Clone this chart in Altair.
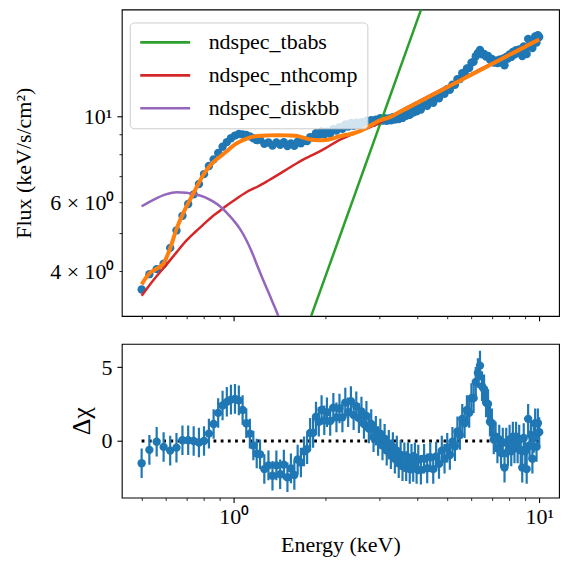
import altair as alt
import pandas as pd

FONT = "Liberation Serif"

# ---------------- data ----------------
ENERGY = [0.50, 0.53, 0.56, 0.59, 0.62, 0.65, 0.68, 0.71, 0.74, 0.77, 0.80, 0.83,
          0.86, 0.89, 0.92, 0.95, 0.98, 1.01, 1.04, 1.07, 1.10, 1.13, 1.16, 1.19,
          1.22, 1.26, 1.30, 1.34, 1.38, 1.42, 1.46, 1.50, 1.54, 1.58, 1.62, 1.66,
          1.70, 1.74, 1.78, 1.82, 1.86, 1.90, 1.94, 1.98, 2.02,
          2.07, 2.12, 2.17, 2.22, 2.27, 2.32, 2.37, 2.42, 2.47, 2.52, 2.57, 2.62,
          2.67, 2.72, 2.77, 2.82, 2.87, 2.92, 2.97, 3.02, 3.07, 3.12, 3.17, 3.22,
          3.27, 3.32, 3.37, 3.42, 3.47, 3.52, 3.57, 3.62, 3.67, 3.72, 3.77, 3.82,
          3.87, 3.92, 3.97, 4.02,
          4.1, 4.2, 4.3, 4.4, 4.5, 4.6, 4.7, 4.8, 4.9, 5.0, 5.1, 5.2, 5.3, 5.4,
          5.5, 5.6, 5.7, 5.8, 5.9, 6.0, 6.1, 6.2, 6.3, 6.4, 6.5, 6.6, 6.7, 6.8,
          6.9, 7.0, 7.1, 7.2, 7.3, 7.4, 7.5, 7.6, 7.7, 7.8, 7.9, 8.0, 8.1, 8.2,
          8.3, 8.4, 8.5, 8.6, 8.7, 8.8, 8.9, 9.0, 9.1, 9.2, 9.3, 9.4, 9.5, 9.6,
          9.7, 9.8, 9.9, 10.0]

FLUX = [3.59, 3.93, 4.05, 4.18, 4.59, 5.09, 5.55, 5.95, 6.30, 6.70, 7.10, 7.45,
        7.75, 8.05, 8.35, 8.58, 8.78, 8.92, 9.00, 8.98, 8.95, 8.88, 8.78, 8.68,
        8.71, 8.50, 8.56, 8.41, 8.57, 8.44, 8.58, 8.38, 8.51, 8.40, 8.60, 8.52,
        8.65, 8.64, 8.84, 8.82, 9.05, 8.96, 9.14, 8.99, 9.13,
        9.03, 9.27, 9.19, 9.37, 9.28, 9.53, 9.41, 9.61, 9.45, 9.63, 9.50, 9.66,
        9.54, 9.74, 9.62, 9.77, 9.62, 9.80, 9.71, 9.89, 9.74, 9.89, 9.73, 9.87,
        9.76, 9.94, 9.80, 10.00, 9.84, 10.04, 9.90, 10.11, 10.02, 10.23, 10.08, 10.32,
        10.22, 10.44, 10.29, 10.51,
        10.40, 10.72, 10.64, 10.96, 10.83, 11.17, 11.12, 11.48, 11.42, 11.74, 11.69,
        12.05, 12.04, 12.45, 12.46, 12.90, 12.90, 13.27, 13.30, 13.72, 13.80, 14.26,
        14.54, 14.79, 14.43, 14.45, 14.24, 14.29, 13.98, 14.03, 13.73, 13.88, 13.69,
        13.97, 13.73, 14.05, 13.52, 14.20, 14.06, 14.42, 14.20, 14.63, 14.41, 14.78,
        14.56, 14.85, 14.66, 14.28, 15.10, 14.83, 14.44, 15.80, 15.19, 15.51, 14.97,
        15.58, 16.03, 15.46, 16.15, 15.98]

RESID = [-1.5, -0.6, -0.05, -0.4, -0.65, -0.45, 0.05, 0.05, 0.0, -0.1, 0.0, 0.5,
         1.15, 1.9, 2.4, 2.65, 2.8, 2.85, 2.75, 2.1, 1.2, 0.5, -0.3, -0.85,
         -0.9, -1.9, -1.65, -2.35, -1.65, -2.25, -1.6, -2.45, -1.85, -2.3, -1.25, -1.45,
         -0.7, -0.55, 0.55, 0.55, 1.65, 1.3, 2.1, 1.4, 1.95,
         1.35, 2.25, 1.6, 2.2, 1.6, 2.6, 1.95, 2.7, 1.75, 2.35, 1.55, 2.0,
         1.15, 1.7, 0.85, 1.15, 0.25, 0.7, 0.0, 0.5, -0.3, 0.15, -0.65, -0.25,
         -0.9, -0.4, -1.2, -0.65, -1.5, -0.95, -1.7, -1.1, -1.7, -1.1, -1.9, -1.2,
         -1.75, -1.1, -1.9, -1.25,
         -1.95, -1.2, -1.85, -1.1, -1.9, -1.05, -1.55, -0.65, -1.2, -0.45, -0.95,
         -0.05, -0.35, 0.65, 0.4, 1.5, 1.2, 2.1, 1.9, 2.9, 2.9, 4.0, 4.6, 5.1, 3.7,
         3.5, 2.6, 2.5, 1.3, 1.2, 0.1, 0.3, -0.5, 0.1, -0.8, -0.1, -1.8, -0.1, -0.7,
         0.1, -0.7, 0.3, -0.5, 0.3, -0.5, 0.1, -0.6, -1.8, 0.2, -0.7, -1.9, 1.5,
         -0.3, 0.4, -1.2, 0.2, 1.2, -0.4, 1.2, 0.6]
RESID_ERR = 1.0

# total model (orange)
MODEL_E = [0.50, 0.53, 0.56, 0.59, 0.62, 0.65, 0.68, 0.71, 0.74, 0.77, 0.80, 0.83,
           0.86, 0.90, 0.95, 1.00, 1.05, 1.10, 1.15, 1.20, 1.30, 1.40, 1.50, 1.60,
           1.70, 1.80, 1.90, 2.00, 2.10, 2.20, 2.30, 2.40, 2.50, 2.60, 2.80, 3.00,
           3.25, 3.5, 4.0, 4.5, 5.0, 5.5, 6.0, 6.5, 7.0, 7.5, 8.0, 8.5, 9.0, 9.5, 10.0]
MODEL_F = [3.70, 3.95, 4.06, 4.19, 4.58, 5.13, 5.58, 5.98, 6.36, 6.75, 7.12, 7.41,
           7.63, 7.86, 8.13, 8.42, 8.61, 8.75, 8.85, 8.90, 8.93, 8.94, 8.93, 8.91,
           8.80, 8.70, 8.68, 8.69, 8.76, 8.87, 8.94, 8.99, 9.07, 9.17, 9.46, 9.75,
           9.95, 10.26, 10.83, 11.37, 11.87, 12.34, 12.79, 13.21, 13.62, 14.01, 14.38,
           14.74, 15.09, 15.43, 15.74]

COMP_NAMES = ["ndspec_tbabs", "ndspec_nthcomp", "ndspec_diskbb"]
COMP_COLORS = ["#2ca02c", "#d62728", "#9467bd"]

TBABS_E = [1.7, 2.0, 2.5, 3.0, 3.5, 4.0, 4.5]
TBABS_F = [2.73, 3.89, 6.34, 9.45, 13.25, 17.75, 22.97]

NTH_E = [0.50, 0.55, 0.60, 0.65, 0.70, 0.75, 0.80, 0.85, 0.90, 0.95, 1.0, 1.1, 1.2,
         1.3, 1.4, 1.5, 1.6, 1.7, 1.8, 1.9, 2.0, 2.2, 2.4, 2.6, 2.8, 3.0, 3.25, 3.5,
         4.0, 5.0, 6.0, 7.0, 8.0, 9.0, 10.0]
NTH_F = [3.46, 3.82, 4.14, 4.47, 4.79, 5.05, 5.29, 5.52, 5.71, 5.90, 6.07, 6.38, 6.60,
         6.84, 7.08, 7.32, 7.55, 7.76, 7.93, 8.10, 8.28, 8.66, 8.93, 9.17, 9.38, 9.62,
         9.97, 10.30, 10.88, 11.93, 12.85, 13.68, 14.45, 15.16, 15.80]

DISK_E = [0.50, 0.55, 0.60, 0.65, 0.70, 0.75, 0.80, 0.85, 0.90, 0.95, 1.00, 1.05,
          1.10, 1.15, 1.20, 1.25, 1.30, 1.35, 1.40, 1.45, 1.50, 1.6, 1.7]
DISK_F = [5.87, 6.12, 6.30, 6.38, 6.36, 6.30, 6.21, 6.06, 5.88, 5.65, 5.40, 5.13,
          4.81, 4.46, 4.10, 3.79, 3.53, 3.29, 3.07, 2.85, 2.64, 2.25, 1.90]

ZERO_E = [0.5, 10.0]
ZERO_Y = [0.0, 0.0]

X_TICKS = [0.5, 0.6, 0.7, 0.8, 0.9, 1, 2, 3, 4, 5, 6, 7, 8, 9, 10]
Y_TICKS_TOP = [4, 5, 6, 7, 8, 9, 10]
Y_TICKS_BOT = [0, 5]

X_DOMAIN = [0.4305, 11.61]
Y_DOMAIN_TOP = [3.07, 18.8]
Y_DOMAIN_BOT = [-3.83, 6.57]

# ---------------- tables ----------------
data_df = pd.DataFrame({"E": ENERGY, "F": FLUX, "R": RESID})
model_df = pd.DataFrame({"E": MODEL_E, "F": MODEL_F})
comp_df = pd.concat([
    pd.DataFrame({"E": TBABS_E, "F": TBABS_F, "component": COMP_NAMES[0]}),
    pd.DataFrame({"E": NTH_E, "F": NTH_F, "component": COMP_NAMES[1]}),
    pd.DataFrame({"E": DISK_E, "F": DISK_F, "component": COMP_NAMES[2]}),
])
zero_df = pd.DataFrame({"E": ZERO_E, "y": ZERO_Y})

BLUE = "#1f77b4"
W = 438
H_TOP = 307
H_BOT = 154

x_scale = alt.Scale(type="log", domain=X_DOMAIN, nice=False)
major_x = "datum.value == 1 || datum.value == 10"
tick_size_x = {"condition": {"test": major_x, "value": 4.9}, "value": 2.8}
tick_width_x = {"condition": {"test": major_x, "value": 1.1}, "value": 0.85}

x_axis_top = alt.Axis(values=X_TICKS, labels=False, title=None,
                      tickSize=tick_size_x, tickWidth=tick_width_x)
x_axis_bot = alt.Axis(values=X_TICKS, title="Energy (keV)",
                      labelExpr="datum.value == 1 ? '10⁰' : datum.value == 10 ? '10¹' : ''",
                      tickSize=tick_size_x, tickWidth=tick_width_x,
                      labelFlush=False, labelOverlap=False, labelPadding=4,
                      titlePadding=7)

major_y = "datum.value == 10"
y_axis_top = alt.Axis(values=Y_TICKS_TOP, title="Flux (keV/s/cm²)",
                      labelExpr="datum.value == 10 ? '10¹' : datum.value == 6 ? '6 × 10⁰' : datum.value == 4 ? '4 × 10⁰' : ''",
                      tickSize={"condition": {"test": major_y, "value": 4.9}, "value": 2.8},
                      tickWidth={"condition": {"test": major_y, "value": 1.1}, "value": 0.85},
                      labelOverlap=False, labelFlush=False, labelPadding=5,
                      titlePadding=14)
y_axis_bot = alt.Axis(values=Y_TICKS_BOT, title="Δχ", tickSize=4.9, tickWidth=1.1,
                      labelPadding=5, titlePadding=6, labelFlush=False,
                      titleFontSize=26)

x_top = alt.X("E:Q", scale=x_scale, axis=x_axis_top)
y_top = alt.Y("F:Q", scale=alt.Scale(type="log", domain=Y_DOMAIN_TOP, nice=False),
              axis=y_axis_top)

points_top = alt.Chart(data_df).mark_circle(size=70, color=BLUE, opacity=1, clip=True).encode(
    x=x_top, y=y_top)

comp_lines = alt.Chart(comp_df).mark_line(strokeWidth=2.5, clip=True,
                                          interpolate="monotone").encode(
    x=x_top, y=y_top,
    order="E:Q",
    color=alt.Color("component:N",
                    scale=alt.Scale(domain=COMP_NAMES, range=COMP_COLORS),
                    sort=COMP_NAMES,
                    legend=alt.Legend(title=None, orient="none", legendX=8, legendY=13,
                                      symbolType="stroke", symbolSize=2500,
                                      symbolStrokeWidth=2.6, clipHeight=22,
                                      labelFont=FONT, labelFontSize=22, labelColor="black",
                                      labelOffset=17, rowPadding=11, padding=9,
                                      fillColor="rgba(255,255,255,0.8)",
                                      strokeColor="#cccccc", cornerRadius=4)))

model_line = alt.Chart(model_df).mark_line(color="#ff7f0e", strokeWidth=4, clip=True,
                                           interpolate="monotone").encode(
    x=x_top, y=y_top, order="E:Q")

top = alt.layer(points_top, comp_lines, model_line).properties(width=W, height=H_TOP)

# bottom panel
x_bot = alt.X("E:Q", scale=x_scale, axis=x_axis_bot)
y_bot_scale = alt.Scale(domain=Y_DOMAIN_BOT, nice=False, zero=False)

zero_line = alt.Chart(zero_df).mark_line(color="black", strokeWidth=2.8,
                                         strokeDash=[2.8, 4.4], strokeCap="butt").encode(
    x=x_bot, y=alt.Y("y:Q", scale=y_bot_scale, axis=y_axis_bot))

err_bars = alt.Chart(data_df).transform_calculate(
    lo=f"datum.R - {RESID_ERR}", hi=f"datum.R + {RESID_ERR}"
).mark_rule(color=BLUE, strokeWidth=2.2, clip=True).encode(
    x=x_bot, y=alt.Y("lo:Q", scale=y_bot_scale, axis=y_axis_bot), y2="hi:Q")

points_bot = alt.Chart(data_df).mark_circle(size=70, color=BLUE, opacity=1, clip=True).encode(
    x=x_bot, y=alt.Y("R:Q", scale=y_bot_scale, axis=y_axis_bot))

bottom = alt.layer(zero_line, err_bars, points_bot).properties(width=W, height=H_BOT)

chart = alt.vconcat(top, bottom, spacing=21).properties(
    padding={"left": 12, "top": 8, "right": 9, "bottom": 5}
).configure_view(stroke="black", strokeWidth=1.1).configure_axis(
    domain=False, grid=False, labelColor="black", tickColor="black",
    labelFont=FONT, titleFont=FONT, labelFontSize=22, titleFontSize=22,
    titleFontWeight="normal", titleColor="black"
)

chart.save("out.html", embed_options={"renderer": "svg", "actions": False})
